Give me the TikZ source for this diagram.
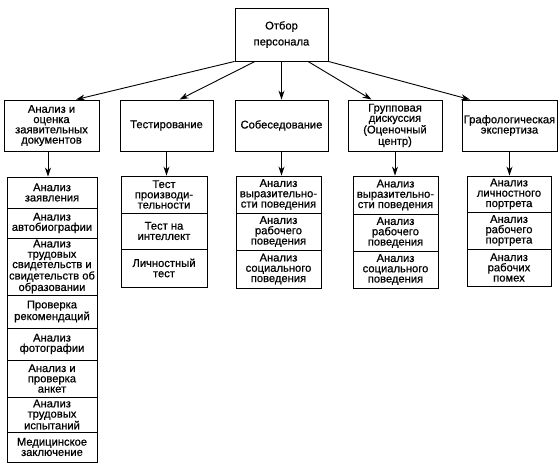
\documentclass[tikz,border=0pt]{standalone}
\usepackage{fontspec}
\setmainfont[FakeBold=0.6]{Liberation Sans}
\usetikzlibrary{arrows.meta}
\begin{document}
\begin{tikzpicture}[x=1pt,y=-1pt,
  box/.style={draw, line width=0.9pt, align=center, inner sep=0pt,
    font=\fontsize{11.2pt}{10.3pt}\selectfont},
  arr/.style={line width=0.9pt, -{Stealth[length=9pt,width=6pt]}}]
\useasboundingbox (0,0) rectangle (560,470);
\fill[white] (0,0) rectangle (560,470);
% top
\node[box, minimum width=93pt, minimum height=53pt, font=\fontsize{11.2pt}{16pt}\selectfont] (top) at (281.5,34.5) {Отбор\\персонала};
% second row
\node[box, minimum width=95pt, minimum height=51pt] (b1) at (51.5,125.5) {Анализ и\\оценка\\заявительных\\документов};
\node[box, minimum width=93pt, minimum height=51pt] (b2) at (166.5,125.5) {Тестирование};
\node[box, minimum width=93pt, minimum height=51pt] (b3) at (281.5,125.5) {Собеседование};
\node[box, minimum width=94pt, minimum height=51pt] (b4) at (395,125.5) {Групповая\\дискуссия\\(Оценочный\\центр)};
\node[box, minimum width=95pt, minimum height=51pt] (b5) at (509.5,125.5) {Графологическая\\экспертиза};
% column 1
\node[box, minimum width=90pt, minimum height=31pt] (c11) at (52,192.5) {Анализ\\заявления};
\node[box, minimum width=90pt, minimum height=30pt] (c12) at (52,223) {Анализ\\автобиографии};
\node[box, minimum width=90pt, minimum height=57pt] (c13) at (52,266.5) {Анализ\\трудовых\\свидетельств и\\свидетельств об\\образовании};
\node[box, minimum width=90pt, minimum height=33pt] (c14) at (52,311.5) {Проверка\\рекомендаций};
\node[box, minimum width=90pt, minimum height=32pt] (c15) at (52,344) {Анализ\\фотографии};
\node[box, minimum width=90pt, minimum height=37pt] (c16) at (52,378.5) {Анализ и\\проверка\\анкет};
\node[box, minimum width=90pt, minimum height=35pt] (c17) at (52,414.5) {Анализ\\трудовых\\испытаний};
\node[box, minimum width=90pt, minimum height=30pt] (c18) at (52,447) {Медицинское\\заключение};
% column 2
\node[box, minimum width=86pt, minimum height=37pt] (c21) at (164,194.5) {Тест\\производи-\\тельности};
\node[box, minimum width=86pt, minimum height=36pt] (c22) at (164,231) {Тест на\\интеллект};
\node[box, minimum width=86pt, minimum height=38pt] (c23) at (164,268) {Личностный\\тест};
% column 3
\node[box, minimum width=85pt, minimum height=37pt] (c31) at (278.5,194.5) {Анализ\\выразительно-\\сти поведения};
\node[box, minimum width=85pt, minimum height=37pt] (c32) at (278.5,231.5) {Анализ\\рабочего\\поведения};
\node[box, minimum width=85pt, minimum height=38pt] (c33) at (278.5,269) {Анализ\\социального\\поведения};
% column 4
\node[box, minimum width=85pt, minimum height=38pt] (c41) at (395.5,195) {Анализ\\выразительно-\\сти поведения};
\node[box, minimum width=85pt, minimum height=37pt] (c42) at (395.5,232.5) {Анализ\\рабочего\\поведения};
\node[box, minimum width=85pt, minimum height=37pt] (c43) at (395.5,269.5) {Анализ\\социального\\поведения};
% column 5
\node[box, minimum width=84pt, minimum height=36pt] (c51) at (509,194) {Анализ\\личностного\\портрета};
\node[box, minimum width=84pt, minimum height=37pt] (c52) at (509,230.5) {Анализ\\рабочего\\портрета};
\node[box, minimum width=84pt, minimum height=37pt] (c53) at (509,267.5) {Анализ\\рабочих\\помех};
% arrows from top
\draw[arr] (top.south west) -- ([xshift=24.5pt]b1.north);
\draw[arr] ([xshift=-26.5pt]top.south) -- ([xshift=13pt]b2.north);
\draw[arr] (top.south) -- (b3.north);
\draw[arr] ([xshift=26.5pt]top.south) -- ([xshift=-23.5pt]b4.north);
\draw[arr] (top.south east) -- ([xshift=-39.5pt]b5.north);
% arrows to columns
\draw[arr] ([xshift=-3.5pt]b1.south) -- ([xshift=-3.5pt]b1.south |- c11.north);
\draw[arr] (b2.south) -- (b2.south |- c21.north);
\draw[arr] (b3.south) -- (b3.south |- c31.north);
\draw[arr] (b4.south) -- (b4.south |- c41.north);
\draw[arr] (b5.south) -- (b5.south |- c51.north);
\end{tikzpicture}
\end{document}
